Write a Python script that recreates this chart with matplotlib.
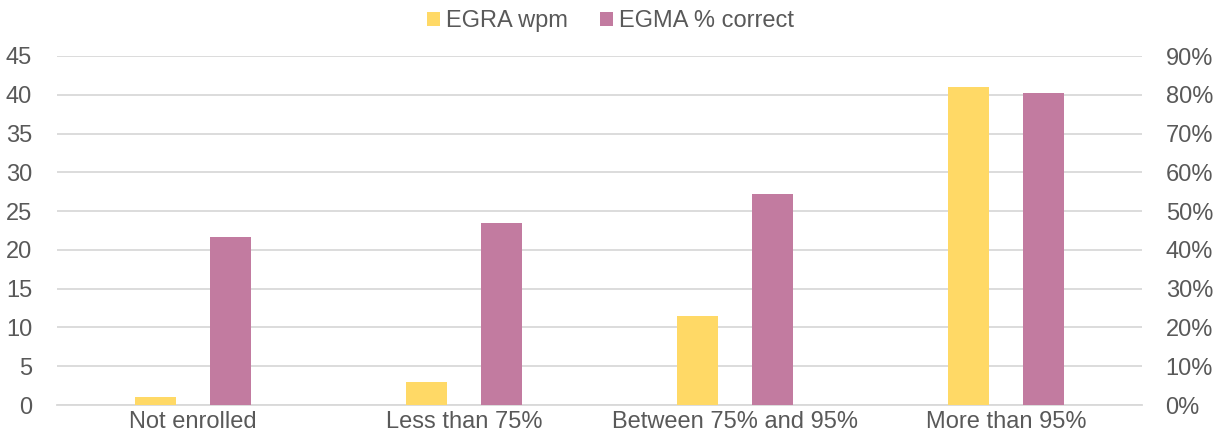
import numpy as np
import matplotlib.pyplot as plt
from matplotlib.ticker import FuncFormatter

# data
categories = ['Not enrolled', 'Less than 75%', 'Between 75% and 95%', 'More than 95%']
egra_wpm = [1.0, 3.0, 11.5, 41.0]
egma_pct = [43.2, 46.9, 54.5, 80.5]   # percent correct, right axis

yellow = '#FFD966'
pink = '#C27BA0'
txt = '#595959'
grid = '#D9D9D9'

plt.rcParams['font.family'] = ['Liberation Sans', 'DejaVu Sans']

fig = plt.figure(figsize=(12.21, 4.38), dpi=100)
ax = fig.add_axes([57/1221, 1-405/438, (1142-57)/1221, (405-56)/438])
ax2 = ax.twinx()

x = np.arange(len(categories))
w = 0.151
off = 0.138

b1 = ax.bar(x - off, egra_wpm, w, color=yellow, zorder=3, label='EGRA wpm')
b2 = ax2.bar(x + off, egma_pct, w, color=pink, zorder=3, label='EGMA % correct')

ax.set_xlim(-0.5, len(categories) - 0.5)
ax.set_ylim(0, 45)
ax.set_yticks(np.arange(0, 46, 5))
ax2.set_ylim(0, 90)
ax2.set_yticks(np.arange(0, 91, 10))
ax2.yaxis.set_major_formatter(FuncFormatter(lambda v, p: '%d%%' % v))

ax.set_xticks(x)
ax.set_xticklabels(categories)

ax.grid(axis='y', color=grid, linewidth=1.3, zorder=0)
ax.set_axisbelow(True)

for a in (ax, ax2):
    for s in a.spines.values():
        s.set_visible(False)
    a.tick_params(length=0, labelsize=17, colors=txt)
ax.spines['bottom'].set_visible(True)
ax.spines['bottom'].set_color(grid)
ax.spines['bottom'].set_linewidth(1.3)
ax.tick_params(axis='y', pad=18)
ax2.tick_params(axis='y', pad=17)
ax.tick_params(axis='x', pad=4)

fig.legend([b1, b2], ['EGRA wpm', 'EGMA % correct'], loc='center',
           bbox_to_anchor=(0.5, 1-21/438), ncol=2, frameon=False,
           fontsize=17, labelcolor=txt, handlelength=0.55, handleheight=0.55,
           handletextpad=0.25, columnspacing=1.4)

plt.savefig('out.png', dpi=100)
